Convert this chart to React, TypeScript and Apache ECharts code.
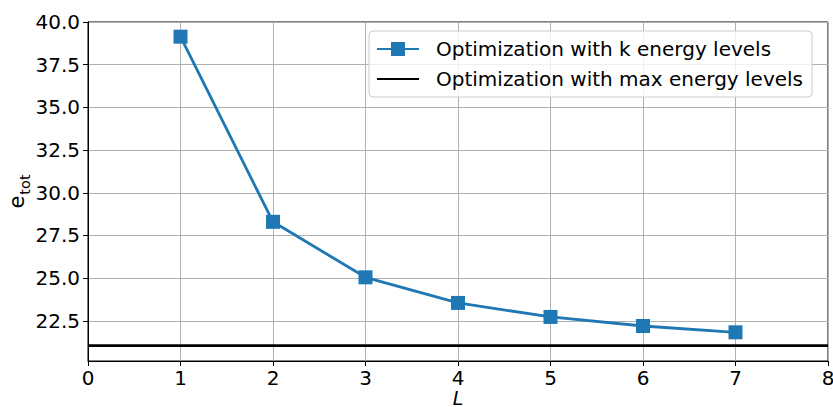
import React, { useEffect, useRef } from "react";
import * as echarts from "echarts";

const levels = [1, 2, 3, 4, 5, 6, 7];
const kEnergy = [39.14, 28.3, 25.05, 23.55, 22.73, 22.2, 21.83];
const maxEnergy = 21.05;
const xRange = [0, 8];
const yTicks = [22.5, 25.0, 27.5, 30.0, 32.5, 35.0, 37.5, 40.0];
const yMin = 20.15;
const yMax = 40.0;

const FONT = "DejaVu Sans";

export default function App() {
  const ref = useRef<HTMLDivElement>(null);
  useEffect(() => {
    const chart = echarts.init(ref.current!, null, { renderer: "svg" });
    chart.setOption({
      animation: false,
      backgroundColor: "#ffffff",
      textStyle: { fontFamily: FONT },
      grid: {
        left: 88,
        right: 5,
        top: 22,
        bottom: 46,
        containLabel: false,
        outerBoundsMode: "none",
        show: true,
        borderColor: "#000",
        borderWidth: 1,
        backgroundColor: "transparent",
      },
      legend: {
        orient: "vertical",
        left: 369,
        top: 31,
        padding: [7, 9, 7, 7],
        itemGap: 8,
        itemWidth: 42,
        itemHeight: 17.5,
        backgroundColor: "rgba(255,255,255,0.8)",
        borderColor: "#cccccc",
        borderWidth: 1,
        borderRadius: 4,
        textStyle: {
          fontFamily: FONT,
          fontSize: 20,
          color: "#000",
          padding: [0, 0, 0, 12],
          lineHeight: 22,
        },
        data: [
          { name: "Optimization with k energy levels" },
          { name: "Optimization with max energy levels", itemStyle: { opacity: 0 } },
        ],
      },
      xAxis: {
        type: "value",
        min: xRange[0],
        max: xRange[1],
        interval: 1,
        name: "L",
        nameLocation: "middle",
        nameGap: 30,
        nameMoveOverlap: false,
        nameTextStyle: { fontFamily: FONT, fontSize: 19, fontStyle: "italic", color: "#000", lineHeight: 13 },
        axisLine: { show: true, onZero: false, lineStyle: { color: "#000", width: 1 } },
        axisTick: { show: true, inside: false, length: 5, lineStyle: { color: "#000" } },
        axisLabel: { fontFamily: FONT, fontSize: 20, color: "#000", margin: 7, lineHeight: 20 },
        splitLine: { show: true, lineStyle: { color: "#b0b0b0", width: 1 } },
      },
      yAxis: {
        type: "value",
        min: yMin,
        max: yMax,
        name: "{e|e}{t|tot}",
        nameLocation: "middle",
        nameGap: 56,
        nameMoveOverlap: false,
        nameRotate: 90,
        nameTextStyle: {
          color: "#000",
          rich: {
            e: { fontFamily: FONT, fontSize: 21, color: "#000", verticalAlign: "bottom", padding: [0, 0, 5, 0] },
            t: { fontFamily: FONT, fontSize: 14.5, color: "#000", verticalAlign: "bottom", padding: [0, 0, 0, 1] },
          },
        },
        axisLine: { show: true, onZero: false, lineStyle: { color: "#000", width: 1 } },
        axisTick: { show: true, inside: false, length: 5, lineStyle: { color: "#000" }, customValues: yTicks },
        axisLabel: {
          fontFamily: FONT,
          fontSize: 20,
          color: "#000",
          margin: 8,
          customValues: yTicks,
          formatter: (v: number) => v.toFixed(1),
        },
        splitLine: { show: true, lineStyle: { color: "#b0b0b0", width: 1 } },
      },
      series: [
        {
          name: "Optimization with k energy levels",
          type: "line",
          data: levels.map((l, i) => [l, kEnergy[i]]),
          symbol: "rect",
          symbolSize: 14,
          color: "#1f77b4",
          lineStyle: { color: "#1f77b4", width: 2.8 },
          itemStyle: { color: "#1f77b4" },
          z: 3,
        },
        {
          name: "Optimization with max energy levels",
          type: "line",
          data: [
            [xRange[0], maxEnergy],
            [xRange[1], maxEnergy],
          ],
          symbol: "none",
          color: "#000",
          lineStyle: { color: "#000", width: 2.8 },
          itemStyle: { color: "#000" },
          z: 2,
        },
      ],
    });
    return () => chart.dispose();
  }, []);
  return (
    <div
      ref={ref}
      style={{ position: "fixed", left: 0, top: 0, width: 833, height: 407, background: "#fff" }}
    />
  );
}
